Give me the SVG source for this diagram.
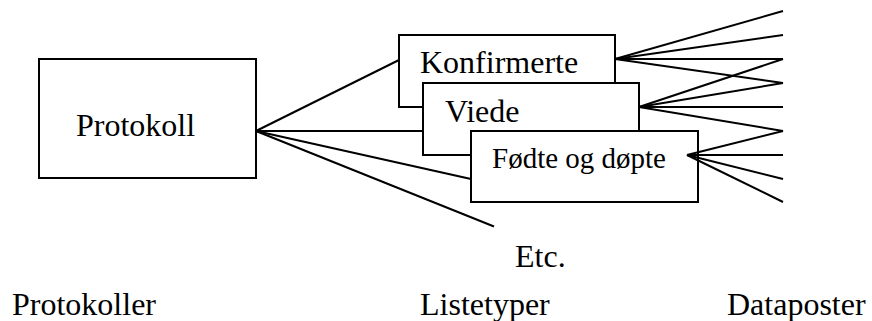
<svg xmlns="http://www.w3.org/2000/svg" width="872" height="321" viewBox="0 0 872 321">
  <style>
    .box { fill: #ffffff; stroke: #000000; stroke-width: 2; }
    .lbl { font-family: "Liberation Serif", "Times New Roman", serif; font-size: 32px; fill: #000000; }
    .small { font-size: 29px; }
    .conn line { stroke: #000000; stroke-width: 2; stroke-linecap: butt; }
  </style>
  <rect width="872" height="321" fill="#ffffff"/>

  <g id="protokoll">
    <rect class="box" x="39" y="59" width="217" height="119"/>
    <text class="lbl" x="76" y="136">Protokoll</text>
  </g>

  <g id="konfirmerte">
    <rect class="box" x="399" y="35" width="216" height="72"/>
    <text class="lbl" x="420" y="73">Konfirmerte</text>
  </g>

  <g id="viede">
    <rect class="box" x="423" y="83" width="216" height="72"/>
    <text class="lbl" x="445" y="121.5">Viede</text>
  </g>

  <g id="fodte">
    <rect class="box" x="471" y="131" width="227" height="71"/>
    <text class="lbl small" x="492" y="168">Fødte og døpte</text>
  </g>

  <g id="connectors" class="conn">
    <!-- protocol to list types -->
    <line x1="256" y1="131" x2="399" y2="60"/>
    <line x1="256" y1="131" x2="423" y2="131"/>
    <line x1="256" y1="131" x2="471" y2="179"/>
    <line x1="256" y1="131" x2="494" y2="226.5"/>
    <!-- Konfirmerte to data records -->
    <line x1="615" y1="59" x2="783" y2="11"/>
    <line x1="615" y1="59" x2="783" y2="35"/>
    <line x1="615" y1="59" x2="783" y2="59"/>
    <line x1="615" y1="59" x2="783" y2="83"/>
    <!-- Viede to data records -->
    <line x1="639" y1="107" x2="783" y2="59"/>
    <line x1="639" y1="107" x2="783" y2="83"/>
    <line x1="639" y1="107" x2="783" y2="107"/>
    <line x1="639" y1="107" x2="783" y2="131"/>
    <!-- Fødte og døpte to data records -->
    <line x1="687" y1="155" x2="783" y2="131"/>
    <line x1="687" y1="155" x2="783" y2="155"/>
    <line x1="687" y1="155" x2="783" y2="179"/>
    <line x1="687" y1="155" x2="783" y2="202"/>
  </g>

  <g id="labels">
    <text class="lbl" x="515" y="267">Etc.</text>
    <text class="lbl" x="12" y="315">Protokoller</text>
    <text class="lbl" x="420" y="315">Listetyper</text>
    <text class="lbl" x="727" y="315">Dataposter</text>
  </g>
</svg>
